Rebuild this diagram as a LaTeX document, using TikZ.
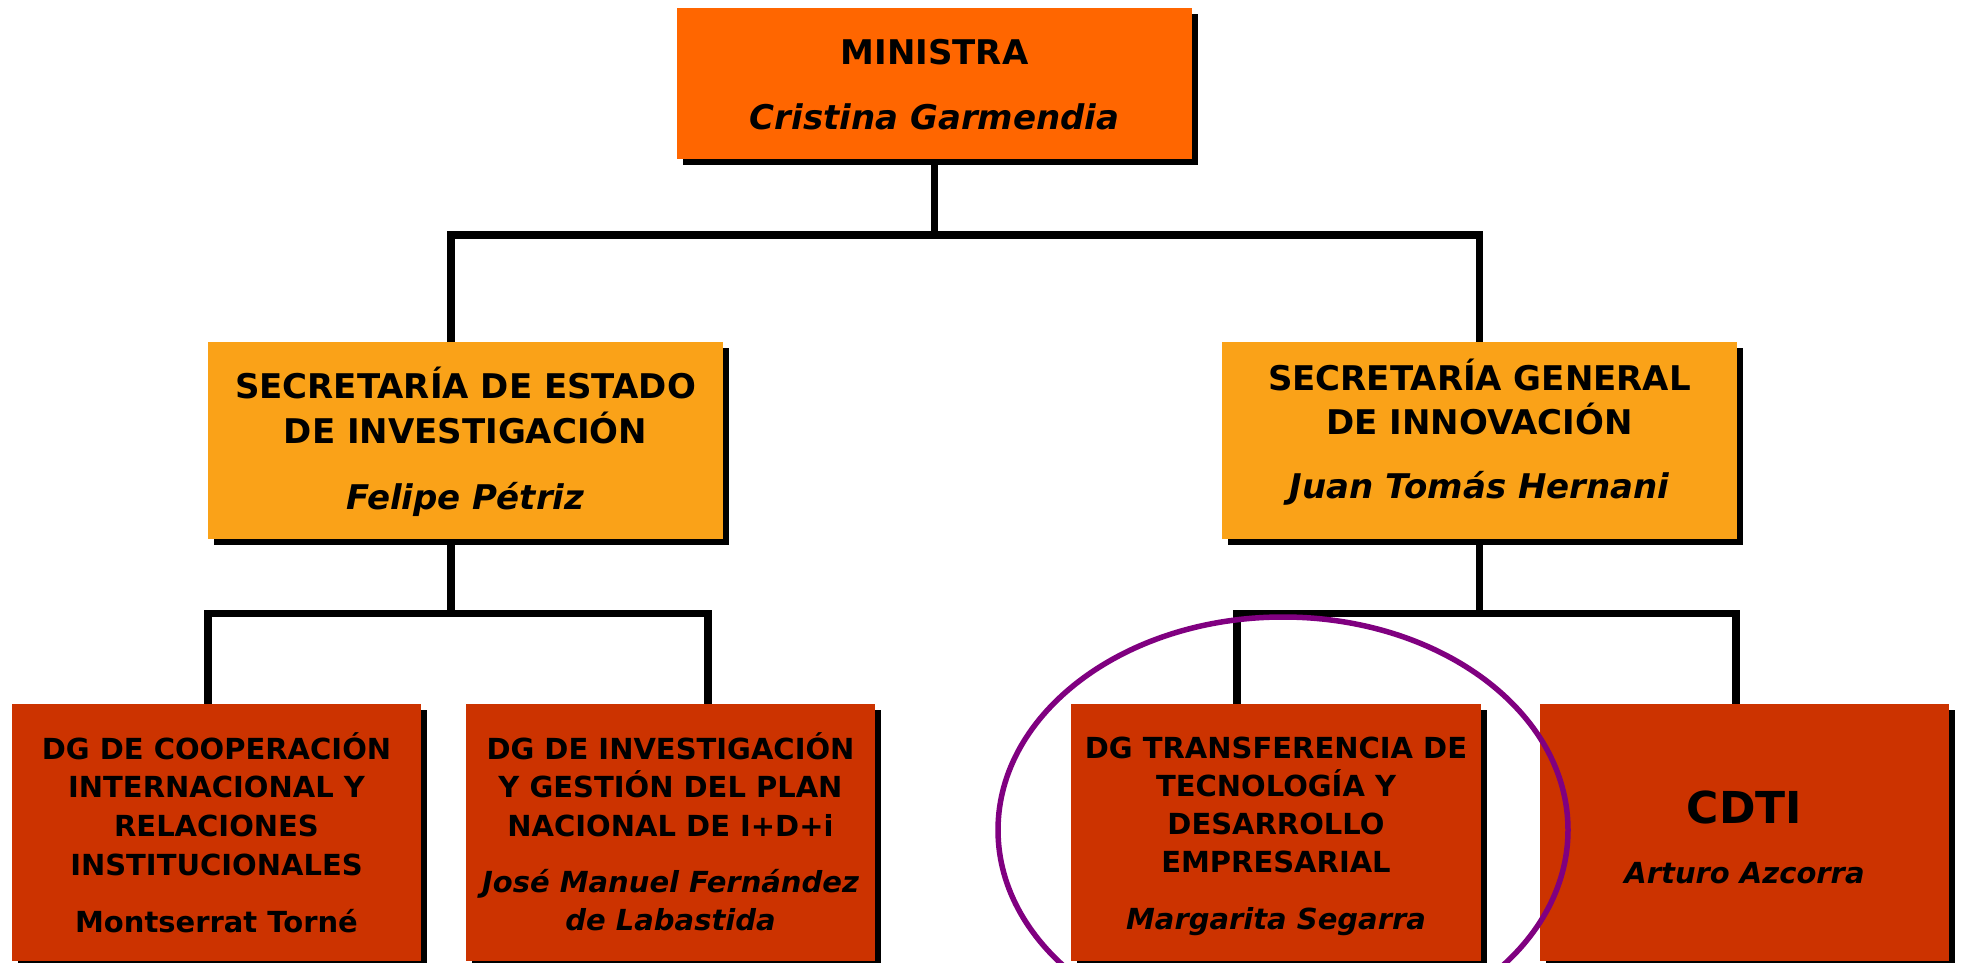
\documentclass[tikz,border=0pt]{standalone}
\usepackage{fontspec}
\setmainfont{DejaVu Sans}
\usetikzlibrary{shadows}
\definecolor{minorange}{RGB}{255,102,0}
\definecolor{secorange}{RGB}{250,162,24}
\definecolor{dgred}{RGB}{204,51,0}
\definecolor{hlpurple}{RGB}{128,0,128}
\setlength{\tabcolsep}{0pt}
\begin{document}
\begin{tikzpicture}[x=1pt,y=-1pt,
  orgbox/.style={rectangle, draw=none, inner sep=0pt, fill=#1,
    drop shadow={shadow xshift=6pt, shadow yshift=-6pt, fill=black, opacity=1}},
  boxtext/.style={anchor=base, inner sep=0pt, text=black, font=\bfseries},
  conn/.style={draw=black, line width=7.5pt, line join=miter},
  highlight/.style={draw=hlpurple, line width=5.5pt}
]
\useasboundingbox (0,0) rectangle (1961,963);
\fill[white] (0,0) rectangle (1961,963);

% boxes
\node[orgbox=minorange, minimum width=515pt, minimum height=151pt] (min) at (934.5,83.5) {};
\node[orgbox=secorange, minimum width=515pt, minimum height=197pt] (sec1) at (465.5,440.5) {};
\node[orgbox=secorange, minimum width=515pt, minimum height=197pt] (sec2) at (1479.5,440.5) {};
\node[orgbox=dgred, minimum width=409pt, minimum height=257pt] (b1) at (216.5,832.5) {};
\node[orgbox=dgred, minimum width=409pt, minimum height=257pt] (b2) at (670.5,832.5) {};
\node[orgbox=dgred, minimum width=410pt, minimum height=257pt] (b3) at (1276,832.5) {};
\node[orgbox=dgred, minimum width=409pt, minimum height=257pt] (b4) at (1744.5,832.5) {};

% texts
\node[boxtext] (mint) at (934.5,65) {\fontsize{34}{65}\selectfont
  \begin{tabular}[t]{c}MINISTRA\\ \itshape Cristina Garmendia\end{tabular}};
\node[boxtext] (sec1t) at (465.5,398) {\fontsize{34}{45}\selectfont
  \begin{tabular}[t]{c}SECRETARÍA DE ESTADO\\ DE INVESTIGACIÓN\\[21pt] \itshape Felipe Pétriz\end{tabular}};
\node[boxtext] (sec2t) at (1479.5,390) {\fontsize{34}{44}\selectfont
  \begin{tabular}[t]{c}SECRETARÍA GENERAL\\ DE INNOVACIÓN\\[20pt] \itshape Juan Tomás Hernani\end{tabular}};
\node[boxtext] (b1t) at (216.5,759) {\fontsize{29}{38.7}\selectfont
  \begin{tabular}[t]{c}DG DE COOPERACIÓN\\ INTERNACIONAL Y\\ RELACIONES\\ INSTITUCIONALES\\[18.3pt] Montserrat Torné\end{tabular}};
\node[boxtext] (b2t) at (670.5,759) {\fontsize{29}{38.5}\selectfont
  \begin{tabular}[t]{c}DG DE INVESTIGACIÓN\\ Y GESTIÓN DEL PLAN\\ NACIONAL DE I+D+i\\[17.5pt] \itshape José Manuel Fernández\\ \itshape de Labastida\end{tabular}};
\node[boxtext] (b3t) at (1276,758) {\fontsize{29}{38.3}\selectfont
  \begin{tabular}[t]{c}DG TRANSFERENCIA DE\\ TECNOLOGÍA Y\\ DESARROLLO\\ EMPRESARIAL\\[18pt] \itshape Margarita Segarra\end{tabular}};
\node[boxtext] (b4t) at (1744.5,823) {\fontsize{29}{60}\selectfont
  \begin{tabular}[t]{c}\fontsize{44}{50}\selectfont CDTI\\ \itshape Arturo Azcorra\end{tabular}};

% connectors
\coordinate (j0) at (934.5,235);
\coordinate (j1) at (451,613.5);
\coordinate (j2) at (1479.5,613.5);
\draw[conn] (min.south) -- (j0);
\draw[conn] ([xshift=-14.5pt]sec1.north) |- (j0) -| (sec2.north);
\draw[conn] ([xshift=-14.5pt]sec1.south) -- (j1);
\draw[conn] ([xshift=-8.5pt]b1.north) |- (j1) -| ([xshift=37.5pt]b2.north);
\draw[conn] (sec2.south) -- (j2);
\draw[conn] ([xshift=-39pt]b3.north) |- (j2) -| ([xshift=-8.5pt]b4.north);

% highlight ellipse
\draw[highlight] (1283,830) ellipse [x radius=285pt, y radius=213pt];
\end{tikzpicture}
\end{document}
